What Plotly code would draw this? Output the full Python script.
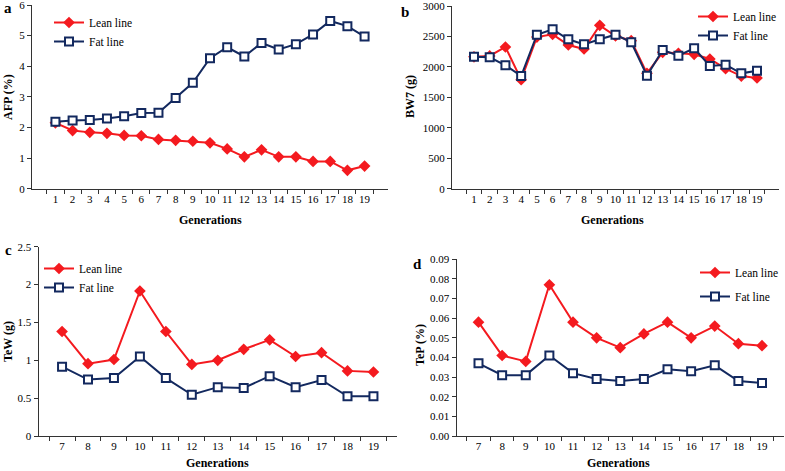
import plotly.graph_objects as go

gens_ab = [str(g) for g in range(1, 20)]
gens_cd = [str(g) for g in range(7, 20)]

afp_lean = [2.15, 1.90, 1.84, 1.81, 1.74, 1.73, 1.61, 1.58, 1.55, 1.50, 1.30, 1.04, 1.27, 1.04, 1.04, 0.89, 0.89, 0.60, 0.74]
afp_fat = [2.19, 2.23, 2.24, 2.29, 2.37, 2.47, 2.48, 2.96, 3.46, 4.26, 4.62, 4.32, 4.76, 4.55, 4.72, 5.04, 5.48, 5.31, 4.97]

bw7_lean = [2165, 2180, 2327, 1790, 2490, 2535, 2360, 2294, 2682, 2507, 2431, 1894, 2239, 2223, 2206, 2130, 1971, 1850, 1818]
bw7_fat = [2165, 2157, 2026, 1850, 2529, 2617, 2453, 2370, 2453, 2529, 2403, 1856, 2277, 2184, 2305, 2015, 2036, 1894, 1938]

tew_lean = [1.38, 0.955, 1.01, 1.915, 1.38, 0.945, 1.00, 1.145, 1.27, 1.05, 1.10, 0.86, 0.845]
tew_fat = [0.915, 0.745, 0.765, 1.05, 0.765, 0.545, 0.645, 0.635, 0.79, 0.645, 0.74, 0.525, 0.525]

tep_lean = [0.058, 0.041, 0.038, 0.077, 0.058, 0.050, 0.045, 0.052, 0.058, 0.050, 0.056, 0.047, 0.046]
tep_fat = [0.037, 0.031, 0.031, 0.041, 0.032, 0.029, 0.028, 0.029, 0.034, 0.033, 0.036, 0.028, 0.027]

x_title = "Generations"
y_titles = ["AFP (%)", "BW7 (g)", "TeW (g)", "TeP (%)"]
panel_labels = ["a", "b", "c", "d"]

RED = "#f41a1f"
NAVY = "#13295f"
FONT = "Liberation Serif"

W, H = 785, 471

def px_x(a, b):
    return [a / W, b / W]

def px_y(top, bottom):
    return [1 - bottom / H, 1 - top / H]

panels = [
    (gens_ab, afp_lean, afp_fat, "", "legend"),
    (gens_ab, bw7_lean, bw7_fat, "2", "legend2"),
    (gens_cd, tew_lean, tew_fat, "3", "legend3"),
    (gens_cd, tep_lean, tep_fat, "4", "legend4"),
]

fig = go.Figure()
for xs, lean, fat, ax, lg in panels:
    fig.add_trace(go.Scatter(
        x=xs, y=lean, name="Lean line", mode="lines+markers",
        line=dict(color=RED, width=2),
        marker=dict(symbol="diamond", size=9, color=RED),
        xaxis="x" + ax, yaxis="y" + ax, legend=lg, legendgroup="lean" + ax,
    ))
    fig.add_trace(go.Scatter(
        x=xs, y=fat, name="Fat line", mode="lines+markers",
        line=dict(color=NAVY, width=2),
        marker=dict(symbol="square", size=8, color="white", line=dict(color=NAVY, width=2)),
        xaxis="x" + ax, yaxis="y" + ax, legend=lg, legendgroup="fat" + ax,
    ))

tickfont = dict(family=FONT, size=11, color="black")
titlefont = dict(family=FONT, size=12, color="black", weight="bold")

def xaxis(domain, anchor):
    return dict(
        domain=domain, anchor=anchor, type="category",
        showline=True, linecolor="#333", linewidth=1,
        ticks="outside", tickson="boundaries", ticklen=4, tickcolor="#333",
        showgrid=False, zeroline=False, tickfont=tickfont, tickangle=0,
        ticklabeloverflow="allow",
    )

def yaxis(domain, anchor, rng, dtick, fmt=None):
    d = dict(
        domain=domain, anchor=anchor, range=rng, dtick=dtick, tick0=0,
        showline=True, linecolor="#333", linewidth=1,
        ticks="outside", ticklen=4, tickcolor="#333",
        showgrid=False, zeroline=False, tickfont=tickfont,
        ticklabeloverflow="allow",
    )
    if fmt:
        d["tickformat"] = fmt
    return d

legfont = dict(family=FONT, size=11.5, color="black")

def legend(x, top, gap=0):
    return dict(x=x / W, y=1 - top / H, xanchor="left", yanchor="top", font=legfont,
                bgcolor="rgba(0,0,0,0)", itemwidth=30, tracegroupgap=gap)

fig.update_layout(
    width=W, height=H,
    margin=dict(l=0, r=0, t=0, b=0, autoexpand=False),
    paper_bgcolor="white", plot_bgcolor="white",
    showlegend=True,
    xaxis=xaxis(px_x(32, 388), "y"),
    yaxis=yaxis(px_y(5, 188.7), "x", [0, 6], 1),
    xaxis2=xaxis(px_x(452, 779), "y2"),
    yaxis2=yaxis(px_y(6, 188.7), "x2", [0, 3000], 500),
    xaxis3=xaxis(px_x(38.5, 397), "y3"),
    yaxis3=yaxis(px_y(246.7, 436), "x3", [0, 2.5], 0.5),
    xaxis4=xaxis(px_x(456.5, 784), "y4"),
    yaxis4=yaxis(px_y(259.3, 436), "x4", [0, 0.09], 0.01, ".2f"),
    legend=legend(49, 8, 0),
    legend2=legend(693, 2, 0),
    legend3=legend(39, 254, 0),
    legend4=legend(695, 258, 5),
)

def ann(text, x, y, font, angle=0):
    fig.add_annotation(text=text, x=x / W, y=1 - y / H, xref="paper", yref="paper",
                       showarrow=False, font=font, xanchor="center", yanchor="middle",
                       textangle=angle)

labelfont = dict(family=FONT, size=15, color="black", weight="bold")
for txt, (x, y) in zip(panel_labels, [(8, 8), (405, 12), (8, 250), (417, 264)]):
    ann(txt, x, y, labelfont)

for (x, y) in [(210, 220), (612, 220), (217, 463), (618, 463)]:
    ann(x_title, x, y, titlefont)

for txt, (x, y) in zip(y_titles, [(8, 97), (410, 97), (8, 342), (420, 345)]):
    ann(txt, x, y, titlefont, angle=-90)

fig.write_html("out.html", config={"displayModeBar": False},
               post_script="document.body.style.margin='0px';")
